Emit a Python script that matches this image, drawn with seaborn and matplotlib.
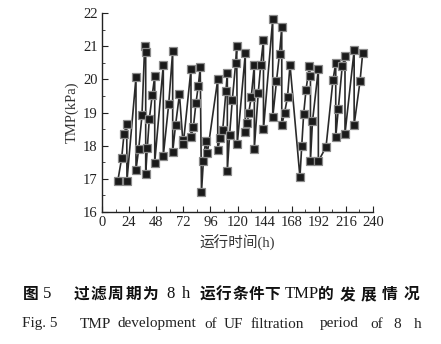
import matplotlib
matplotlib.use("Agg")
import matplotlib.pyplot as plt
from matplotlib.ticker import MultipleLocator
import seaborn as sns
import pandas as pd

# Data (time in h, TMP in kPa)
time_h = [13.9, 17.4, 19.5, 21.9, 22.1, 30.1, 30.1, 32.5, 35.4, 37.8,
          38.7, 38.7, 40.1, 41.9, 44.5, 46.7, 46.7, 54.3, 54.3, 59.1,
          62.6, 62.6, 65.1, 68.6, 71.5, 72.0, 78.8, 78.8, 80.9, 83.2,
          85.3, 87.0, 88.1, 89.8, 91.7, 93.3, 102.5, 102.5, 104.5, 106.9,
          109.8, 111.0, 111.0, 113.0, 115.4, 118.4, 119.3, 119.8, 126.9, 126.9,
          128.7, 129.9, 132.2, 134.9, 134.9, 138.4, 140.6, 143.0, 143.0, 151.2,
          151.2, 154.5, 157.2, 159.2, 159.2, 161.7, 164.3, 166.5, 175.3, 176.9,
          178.6, 180.7, 183.6, 184.6, 184.6, 186.4, 191.6, 191.6, 198.4, 204.6,
          207.0, 207.0, 209.3, 212.8, 215.2, 215.2, 223.3, 223.3, 228.5, 230.9]
tmp_kpa = [16.92, 17.62, 18.35, 18.66, 16.94, 20.06, 17.27, 17.90, 18.91, 21.02,
           20.81, 17.15, 17.92, 18.80, 19.53, 20.10, 17.49, 20.44, 17.70, 19.26,
           20.86, 17.81, 18.61, 19.55, 18.18, 18.05, 20.31, 18.26, 18.55, 19.28,
           19.81, 20.36, 16.60, 17.54, 18.14, 17.77, 20.00, 17.87, 18.22, 18.47,
           19.66, 20.20, 17.24, 18.33, 19.38, 20.50, 20.99, 18.05, 20.78, 18.42,
           18.67, 18.98, 19.47, 20.44, 17.91, 19.60, 20.44, 21.20, 18.49, 21.82,
           18.85, 19.94, 20.77, 21.58, 18.62, 18.99, 19.47, 20.44, 17.05, 18.00,
           18.96, 19.69, 20.39, 20.09, 17.54, 18.73, 20.31, 17.53, 17.96, 19.99,
           20.49, 18.25, 19.12, 20.41, 20.69, 18.36, 20.87, 18.63, 19.94, 20.80]

x_ticks = [0, 24, 48, 72, 96, 120, 144, 168, 192, 216, 240]
y_ticks = [16, 17, 18, 19, 20, 21, 22]

x_label = "运行时间(h)"
y_label = "TMP(kPa)"

df = pd.DataFrame({"time": time_h, "tmp": tmp_kpa})

sns.set_style("ticks")
serif = ["Liberation Serif", "DejaVu Serif"]
cjk_mix = ["Liberation Serif", "Noto Sans CJK SC"]
plt.rcParams["font.family"] = serif

W, H = 441, 344
fig = plt.figure(figsize=(W / 100, H / 100), dpi=100)
ax = fig.add_axes([102 / W, 1 - 212 / H, (373 - 102) / W, (212 - 13) / H])

sns.lineplot(data=df, x="time", y="tmp", ax=ax, sort=False, estimator=None,
             color="#2a2a2a", linewidth=1.2, marker="s", markersize=5.6,
             markerfacecolor="#1a1a1a", markeredgecolor="#8a8a8a",
             markeredgewidth=0.9)

ax.set_xlim(0, 240)
ax.set_ylim(16, 22)
ax.set_xticks(x_ticks)
ax.set_yticks(y_ticks)
ax.xaxis.set_minor_locator(MultipleLocator(12))
ax.yaxis.set_minor_locator(MultipleLocator(0.5))
ax.tick_params(axis="both", which="major", direction="in", length=4,
               width=0.8, labelsize=10.5, colors="#222222", pad=3)
ax.tick_params(axis="both", which="minor", direction="in", length=2, width=0.6)
for lab in ax.get_xticklabels() + ax.get_yticklabels():
    lab.set_fontfamily(serif)
sns.despine(ax=ax)
for s in ["left", "bottom"]:
    ax.spines[s].set_linewidth(1.0)
    ax.spines[s].set_color("#222222")

ax.set_xlabel(x_label, fontsize=10.5, family=cjk_mix, color="#333333", labelpad=4)
ax.set_ylabel(y_label, fontsize=10.5, family=serif, color="#333333", labelpad=3)

# Caption line 1 (Chinese), pieces placed at their left pixel positions
def ftxt(px, py, s, **kw):
    fig.text(px / W, 1 - py / H, s, ha="left", va="center", **kw)

cap_cjk = dict(fontsize=11.3, family=["Noto Sans CJK SC"], fontweight="bold", color="#111111")
cap_lat = dict(fontsize=12, family=serif, color="#111111")

def spaced(px, step, s):
    for i, ch in enumerate(s):
        ftxt(px + i * step, 294, ch, **cap_cjk)

spaced(22.7, 16, "图")
ftxt(43, 294, "5", **cap_lat)
spaced(73.3, 17.3, "过滤周期为")
ftxt(166.7, 294, "8", **cap_lat)
ftxt(182, 294, "h", **cap_lat)
spaced(200, 16.1, "运行条件下")
ftxt(285, 294, "TMP", **cap_lat)
spaced(318.3, 21.3, "的发展情况")

# Caption line 2 (English)
cap_en = dict(fontsize=11, family=serif, color="#222222")
words = [(21.7, "Fig. 5"), (80, "TMP"), (117.3, "development"), (204, "of"),
         (224, "UF"), (250.7, "filtration"), (320, "period"), (370, "of"),
         (393.3, "8"), (413.3, "h")]
for px, w in words:
    ftxt(px, 324, w, **cap_en)

fig.savefig("out.png", dpi=100)
